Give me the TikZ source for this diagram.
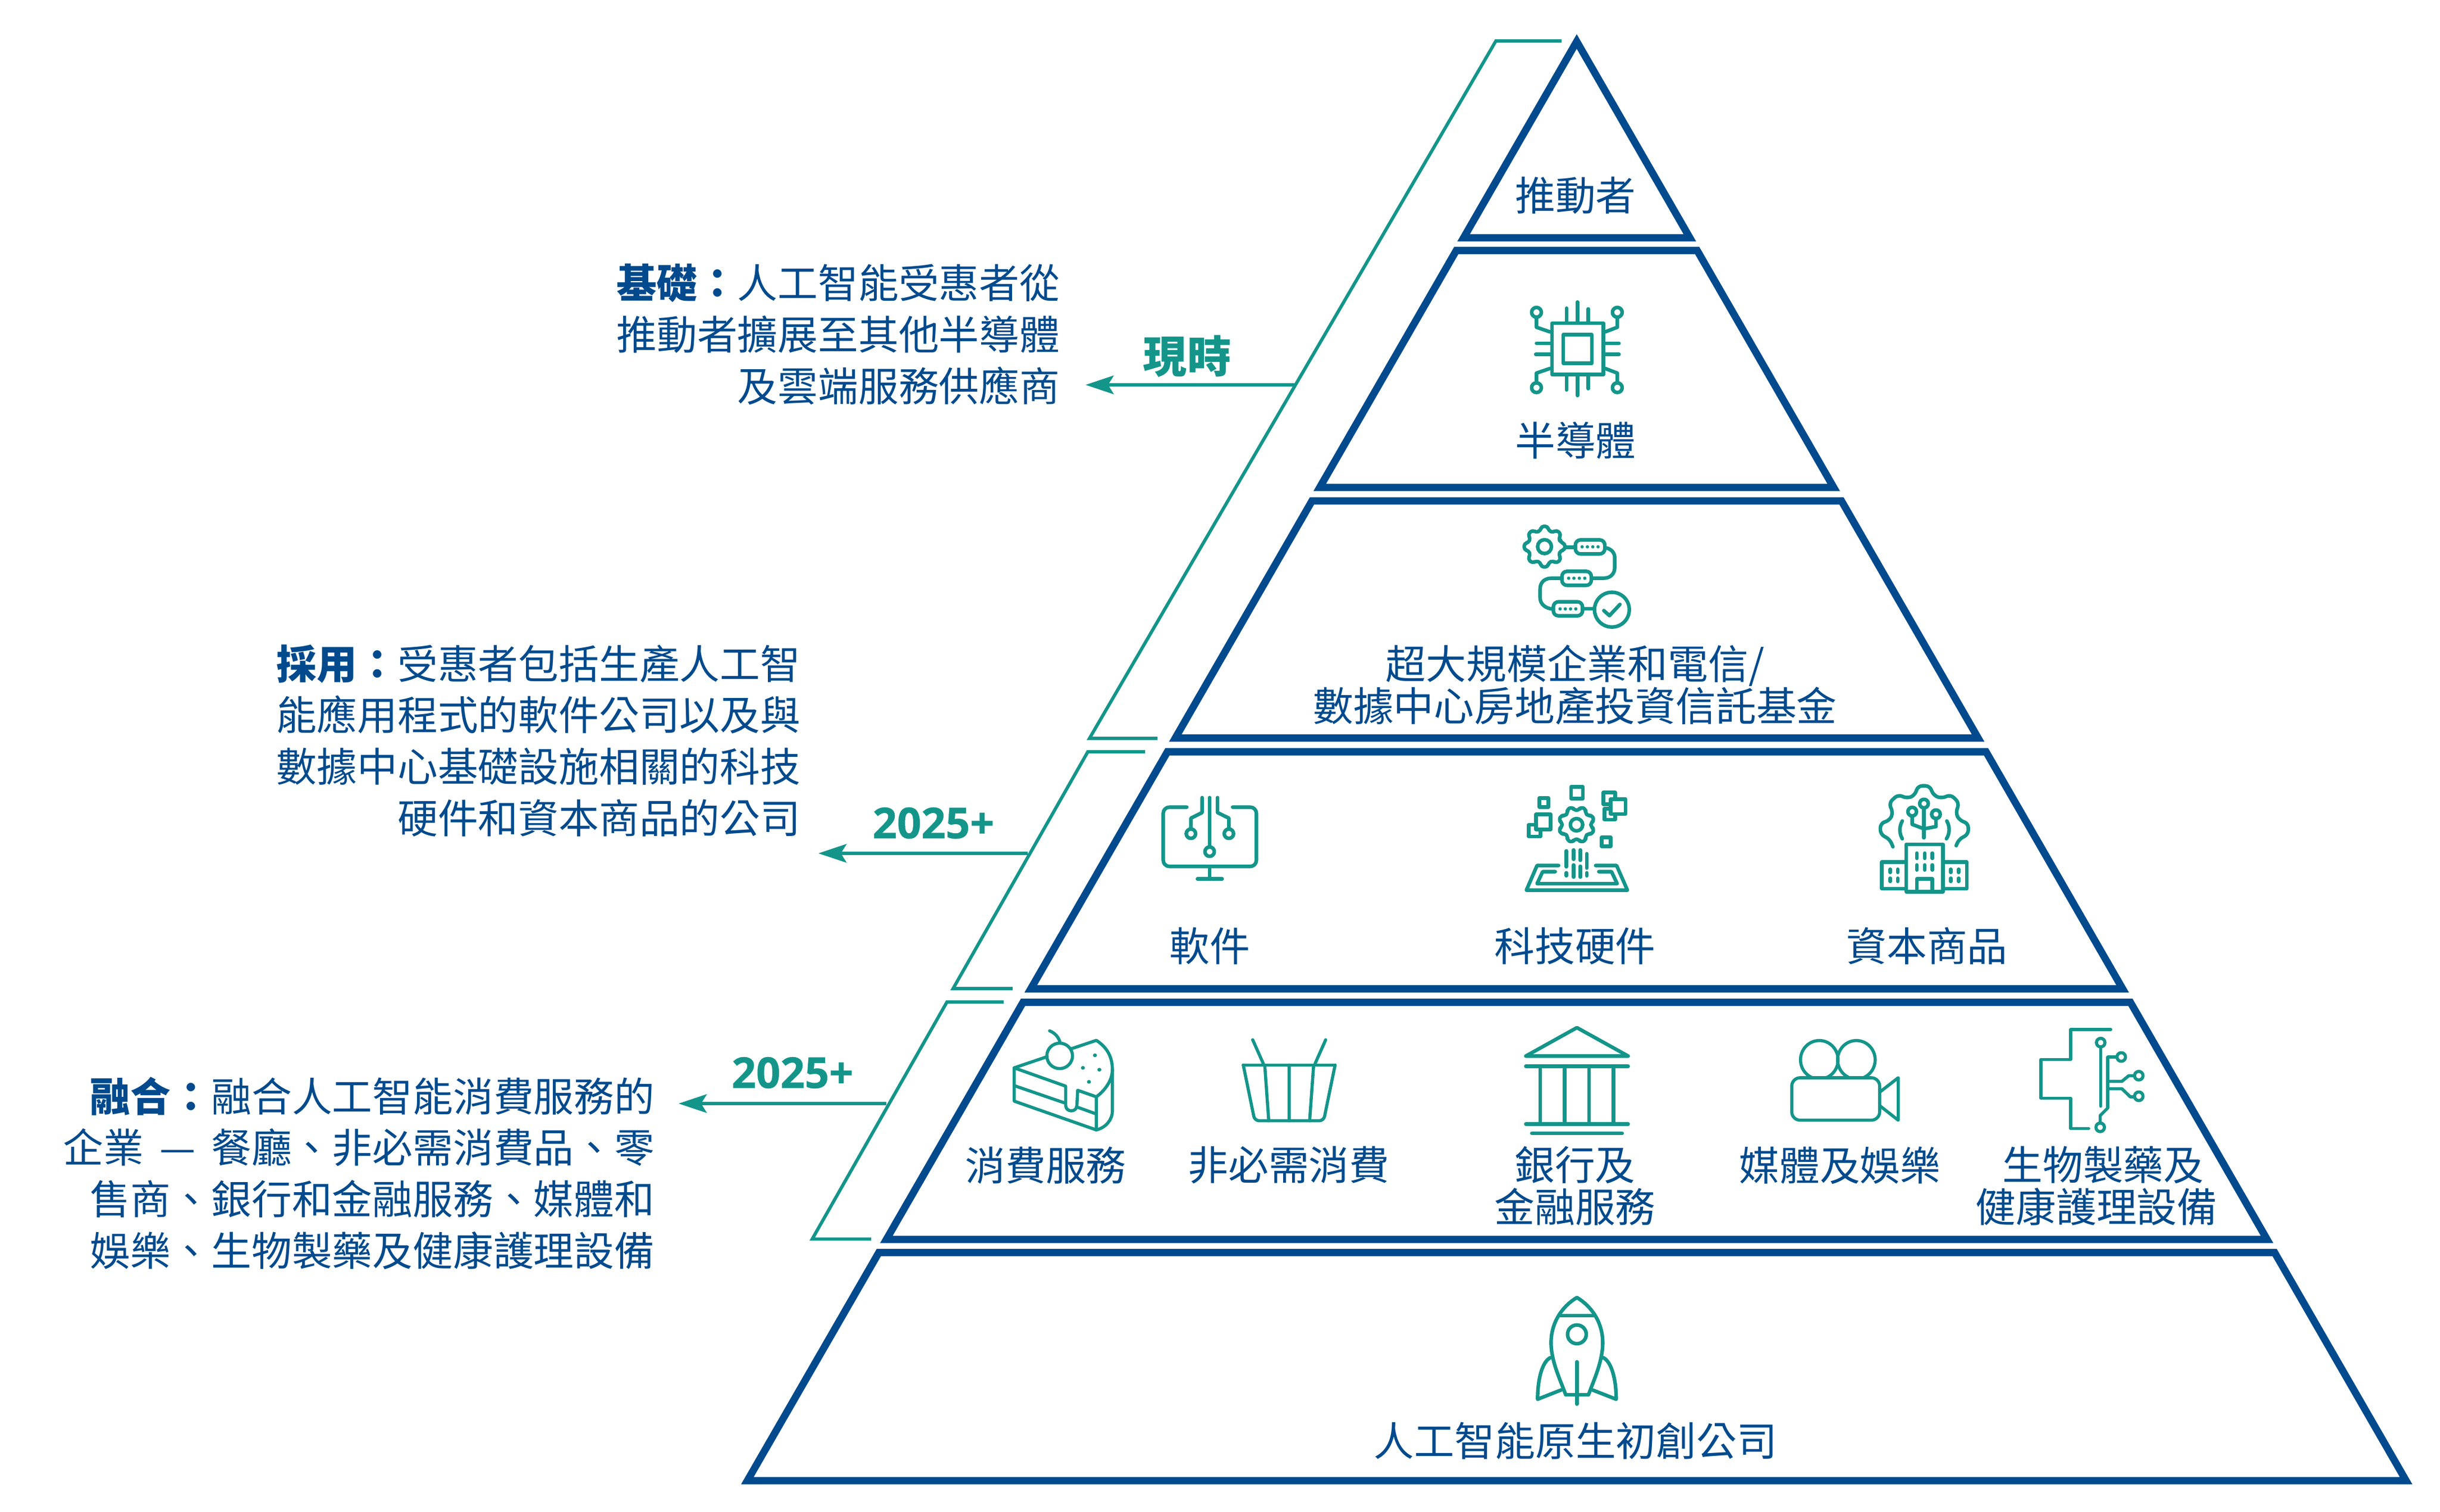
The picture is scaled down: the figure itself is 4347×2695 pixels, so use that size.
\documentclass[tikz,border=0pt]{standalone}
\usepackage{fontspec}
\usetikzlibrary{arrows.meta}
\newfontfamily\cjkf{Noto Sans CJK TC}
\newfontfamily\osans{Open Sans}
\definecolor{nblue}{HTML}{004A8D}
\definecolor{iconteal}{HTML}{14958A}
\newcommand\lblfont{\cjkf\fontsize{20.42pt}{21.3pt}\selectfont}
\newcommand\sidefont{\cjkf\fontsize{20.42pt}{26.04pt}\selectfont}
\newcommand\nowfont{\cjkf\bfseries\fontsize{22.2pt}{24pt}\selectfont}
\newcommand\yearfont{\osans\bfseries\addfontfeature{FakeBold=0.6}\fontsize{21.6pt}{24pt}\selectfont}
% top y and bottom y of one pyramid layer
\newcommand\layerpath[2]{%
  \draw[layerline] ({2809-0.576*(#1-74)},#1) -- ({2809+0.576*(#1-74)},#1)
    -- ({2809+0.576*(#2-74)},#2) -- ({2809-0.576*(#2-74)},#2) -- cycle;}
% cx cy router rinner rhole offset
\newcommand\geargear[6]{%
  \begin{scope}[shift={(#1,#2)}]
    \draw[iconline,rounded corners=0.45mm] (#6-14:#4)
      \foreach \i [evaluate=\i as \a using \i*45+#6] in {0,...,7} {
        -- (\a-14:#4) -- (\a-9:#3) -- (\a+9:#3) -- (\a+14:#4) } -- cycle;
    \draw[iconline] (0,0) circle (#5);
  \end{scope}}
\tikzset{
  x=0.01cm,y=-0.01cm,
  layerline/.style={draw=nblue,line width=1.3mm,line join=miter},
  bracketline/.style={draw=iconteal,line width=0.58mm,line join=miter},
  arrowline/.style={draw=iconteal,line width=0.58mm,-{Stealth[length=5mm,width=3.3mm,inset=1mm,fill=iconteal]}},
  iconline/.style={draw=iconteal,line width=0.64mm,line cap=round,line join=round},
  lbl/.style={font=\lblfont,text=nblue,inner sep=0pt,align=center},
  sidetext/.style={font=\sidefont,text=nblue,inner sep=0pt,align=right,anchor=east},
  nowlbl/.style={font=\nowfont,text=iconteal,inner sep=0pt},
  yearlbl/.style={font=\yearfont,text=iconteal,inner sep=0pt},
}
\begin{document}
\begin{tikzpicture}
\useasboundingbox (0,0) rectangle (4347,2695);
% pyramid
\draw[layerline] (2809,74) -- ({2809+0.576*350},424) -- ({2809-0.576*350},424) -- cycle;
\layerpath{446.5}{869}
\layerpath{893}{1315.5}
\layerpath{1340}{1762.5}
\layerpath{1786.5}{2209}
\layerpath{2232.5}{2639}
% brackets
\draw[bracketline] (2782,73) -- (2665,73) -- (1941,1316) -- (2062,1316);
\draw[bracketline] (2040,1340) -- (1938,1340) -- (1698,1762) -- (1804,1762);
\draw[bracketline] (1788,1786) -- (1687,1786) -- (1447,2208.5) -- (1552,2208.5);
% arrows
\coordinate (a1s) at (2309,686); \coordinate (a1t) at (1934,686);
\coordinate (a2s) at (1831,1521); \coordinate (a2t) at (1458,1521);
\coordinate (a3s) at (1579,1967); \coordinate (a3t) at (1209,1967);
\draw[arrowline] (a1s) -- (a1t);
\draw[arrowline] (a2s) -- (a2t);
\draw[arrowline] (a3s) -- (a3t);
% arrow labels
\node[nowlbl] (now) at (2115,635) {現時};
\node[yearlbl] (y1) at (1663,1467) {2025+};
\node[yearlbl] (y2) at (1412,1912) {2025+};
% side texts
\node[sidetext] (s1) at (1889,596) {{\bfseries 基礎^^^^ff1a}人工智能受惠者從\\推動者擴展至其他半導體\\及雲端服務供應商};
\node[sidetext] (s2) at (1427,1320) {{\bfseries 採用^^^^ff1a}受惠者包括生產人工智\\能應用程式的軟件公司以及與\\數據中心基礎設施相關的科技\\硬件和資本商品的公司};
\node[sidetext] (s3) at (1167,2091) {{\bfseries 融合^^^^ff1a}融合人工智能消費服務的\\企業\hspace{0.12cm} — \hspace{0.12cm}餐廳、非必需消費品、零\\售商、銀行和金融服務、媒體和\\娛樂、生物製藥及健康護理設備};
% layer labels
\node[lbl] (l1) at (2807,348) {推動者};
\node[lbl] (l2) at (2807,785) {半導體};
\node[lbl] (l3) at (2806,1221) {超大規模企業和電信/\\數據中心房地產投資信託基金};
\node[lbl] (l4a) at (2155,1686) {軟件};
\node[lbl] (l4b) at (2806,1686) {科技硬件};
\node[lbl] (l4c) at (3433,1686) {資本商品};
\node[lbl] (l5a) at (1863,2077) {消費服務};
\node[lbl] (l5b) at (2296,2077) {非必需消費};
\node[lbl] (l5c) at (2806,2114) {銀行及\\金融服務};
\node[lbl] (l5d) at (3278,2077) {媒體及娛樂};
\node[lbl] (l5e) at (3735,2114) {\hspace*{0.24cm}生物製藥及\\健康護理設備};
\node[lbl] (l6) at (2807,2568) {人工智能原生初創公司};
% chip
\begin{scope}[shift={(2650,500)},scale=1/3]
  \draw[iconline] (345,228) rectangle (620,503);
  \draw[iconline] (405,290) rectangle (558,442);
  \draw[iconline] (423,228)--(423,148) (481,228)--(481,115) (539,228)--(539,152);
  \draw[iconline] (423,503)--(423,585) (481,503)--(481,615) (539,503)--(539,578);
  \draw[iconline] (345,336)--(262,336) (345,395)--(258,395);
  \draw[iconline] (620,336)--(703,336) (620,395)--(703,395);
  \draw[iconline] (262,170) circle (26) (694,170) circle (26) (262,573) circle (26) (694,573) circle (26);
  \draw[iconline] (262,196)--(262,250)--(335,275) (694,196)--(694,250)--(628,275);
  \draw[iconline] (262,548)--(262,495)--(335,470) (694,548)--(694,495)--(628,470);
\end{scope}
% gear chain
\begin{scope}[shift={(2660,910)},scale=1/3]
  \geargear{275}{193}{110}{88}{37}{0}
  \draw[iconline,rounded corners=0.9mm] (440,157) rectangle (597,232);
  \draw[iconline,rounded corners=0.9mm] (368,325) rectangle (525,400);
  \draw[iconline,rounded corners=0.9mm] (322,488) rectangle (478,563);
  \draw[iconline] (385,196)--(440,196);
  \draw[iconline] (597,198) .. controls (630,203) and (650,225) .. (650,250) -- (650,305) .. controls (650,340) and (625,362) .. (590,362) -- (525,362);
  \draw[iconline] (368,362) -- (310,362) .. controls (275,362) and (251,385) .. (251,420) -- (251,465) .. controls (251,500) and (280,525) .. (322,527);
  \draw[iconline] (478,525)--(542,525);
  \draw[iconline] (635,530) circle (93);
  \draw[iconline] (592,535)--(622,562)--(678,502);
  \foreach \px in {476,504,533,561} \fill[iconteal] (\px,194) circle (9);
  \foreach \px in {404,432,461,490} \fill[iconteal] (\px,362) circle (9);
  \foreach \px in {358,386,414,442} \fill[iconteal] (\px,526) circle (9);
\end{scope}
% monitor
\begin{scope}[shift={(2030,1390)},scale=1/3]
  \draw[iconline,rounded corners=1.1mm] (253,146)--(127,146)--(127,463)--(625,463)--(625,146)--(498,146);
  \draw[iconline] (375,463)--(375,530) (310,530)--(442,530);
  \draw[iconline] (375,95)--(375,358) (335,95)--(335,175)--(275,205)--(275,264) (417,95)--(417,175)--(478,205)--(478,264);
  \draw[iconline] (375,384) circle (25) (275,288) circle (25) (478,288) circle (25);
\end{scope}
% tech hardware
\begin{scope}[shift={(2680,1390)},scale=1/3]
  \geargear{386}{240}{97}{78}{33}{22.5}
  \draw[iconline] (357,37) rectangle (420,100);
  \draw[iconline] (187,97) rectangle (235,145);
  \draw[iconline] (170,185) rectangle (248,265);
  \draw[iconline] (170,240)--(130,240)--(130,303)--(193,303)--(193,265);
  \draw[iconline] (520,308) rectangle (568,356);
  \draw[iconline] (568,103) rectangle (648,183);
  \draw[iconline] (568,130)--(530,130)--(530,68)--(592,68)--(592,103);
  \draw[iconline] (568,155)--(535,155)--(535,213)--(592,213)--(592,183);
  \draw[iconline] (332,380)--(332,465) (332,497)--(332,513) (370,375)--(370,425) (370,455)--(370,520);
  \draw[iconline] (406,375)--(406,430) (406,462)--(406,520) (441,395)--(441,472) (441,497)--(441,513);
  \draw[iconline] (290,458)--(175,458)--(118,590)--(658,590)--(600,458)--(488,458);
  \draw[iconline] (272,491)--(205,491)--(175,555)--(603,555)--(573,491)--(505,491);
\end{scope}
% capital goods
\begin{scope}[shift={(3320,1380)},scale=1/3]
  \draw[iconline,rounded corners=0.8mm] (157,388)--(140,347)--(90,322)--(90,262)--(140,247)--(158,205)--(135,155)--(185,108)--(232,130)--(275,112)--(290,62)--(355,62)--(372,112)--(418,130)--(465,108)--(512,155)--(492,205)--(512,247)--(560,262)--(560,322)--(510,347)--(495,382);
  \draw[iconline] (207,250) .. controls (190,280) and (190,315) .. (207,345);
  \draw[iconline] (445,250) .. controls (462,280) and (462,315) .. (443,345);
  \draw[iconline] (323,340)--(323,180);
  \draw[iconline] (260,222)--(260,268)--(323,292)--(387,280)--(387,236);
  \draw[iconline] (323,157) circle (23) (260,200) circle (23) (387,214) circle (23);
  \draw[iconline] (228,375) rectangle (424,628);
  \draw[iconline] (285,628)--(285,560)--(368,560)--(368,628);
  \draw[iconline] (228,470)--(98,470)--(98,612)--(228,612);
  \draw[iconline] (424,470)--(552,470)--(552,612)--(424,612);
  \foreach \px in {285,327,368} {\draw[iconline] (\px,422)--(\px,450) (\px,485)--(\px,512);}
  \foreach \px in {143,183,466,508} {\draw[iconline] (\px,508)--(\px,525) (\px,556)--(\px,573);}
\end{scope}
% cake and basket
\begin{scope}[shift={(1780,1820)},xscale=1/2.8,yscale=1/3]
  \draw[iconline,line width=0.56mm] (75,250)--(240,190);
  \draw[iconline,line width=0.56mm] (302,186) ellipse [x radius=64,y radius=68];
  \draw[iconline,line width=0.56mm] (360,148)--(485,103) .. controls (545,145) and (565,200) .. (565,260) -- (565,480) .. controls (565,530) and (530,570) .. (485,582);
  \draw[iconline,line width=0.56mm] (565,260) .. controls (565,310) and (535,365) .. (485,405);
  \draw[iconline,line width=0.56mm] (75,250)--(332,348)--(332,450) .. controls (332,490) and (388,490) .. (388,450) -- (392,370) -- (485,405) -- (485,582) -- (75,428) -- cycle;
  \draw[iconline,line width=0.56mm] (75,345)--(325,437) (395,462)--(480,495);
  \draw[iconline,line width=0.56mm] (252,52) .. controls (280,65) and (295,85) .. (303,110);
  \fill[iconteal] (478,183) ellipse [x radius=10,y radius=10] (418,250) ellipse [x radius=10,y radius=10] (500,260) ellipse [x radius=10,y radius=10] (448,325) ellipse [x radius=10,y radius=10];
  \draw[iconline,line width=0.56mm] (1218,235)--(1676,235);
  \draw[iconline,line width=0.56mm,rounded corners=0.8mm] (1218,235)--(1275,533)--(1619,533)--(1676,235);
  \draw[iconline,line width=0.56mm] (1325,235)--(1345,533) (1447,235)--(1447,533) (1569,235)--(1549,533);
  \draw[iconline,line width=0.56mm] (1265,100)--(1318,228) (1629,100)--(1576,228);
\end{scope}
% bank
\begin{scope}[shift={(2700,1820)},scale=1/3]
  \draw[iconline] (55,187)--(328,35)--(602,187)--cycle;
  \draw[iconline] (55,242)--(602,242) (55,551)--(602,551) (87,600)--(570,600);
  \foreach \px in {132,263,393,524} {\draw[iconline] (\px,255)--(\px,545);}
\end{scope}
% camera and health circuit
\begin{scope}[shift={(3180,1820)},xscale=1/2.24,yscale=1/3]
  \draw[iconline,line width=0.56mm,rounded corners=1.5mm] (27,303) rectangle (378,530);
  \begin{scope}
    \clip (0,0) rectangle (400,303);
    \draw[iconline,line width=0.56mm] (137,207) ellipse [x radius=75,y radius=103];
    \draw[iconline,line width=0.56mm] (285,207) ellipse [x radius=75,y radius=103];
  \end{scope}
  \draw[iconline,line width=0.56mm] (378,380)--(452,303)--(452,530)--(378,452);
  \draw[iconline,line width=0.56mm] (1300,45)--(1140,45)--(1140,205)--(1022,205)--(1022,412)--(1140,412)--(1140,575)--(1212,575);
  \draw[iconline,line width=0.56mm] (1260,140)--(1260,455);
  \draw[iconline,line width=0.56mm] (1322,192)--(1288,192)--(1288,465)--(1258,505)--(1258,545);
  \draw[iconline,line width=0.56mm] (1288,322)--(1345,322)--(1372,292)--(1393,292);
  \draw[iconline,line width=0.56mm] (1288,362)--(1345,362)--(1378,405)--(1393,405);
  \foreach \cx/\cy in {1260/115,1342/192,1412/292,1412/402,1258/568}
    {\draw[iconline,line width=0.56mm] (\cx,\cy) ellipse [x radius=17,y radius=23];}
\end{scope}
% rocket
\begin{scope}[shift={(2700,2300)},scale=1/3]
  \draw[iconline] (328,38) .. controls (250,85) and (190,170) .. (190,280) .. controls (190,380) and (240,480) .. (268,558) -- (390,558) .. controls (418,480) and (466,380) .. (466,280) .. controls (466,170) and (406,85) .. (328,38) -- cycle;
  \draw[iconline] (240,135)--(418,135);
  \draw[iconline] (328,235) circle (50);
  \draw[iconline] (328,382)--(328,608);
  \draw[iconline] (185,360) .. controls (140,385) and (118,480) .. (118,582) -- (245,532);
  \draw[iconline] (470,360) .. controls (515,385) and (538,480) .. (538,582) -- (410,532);
\end{scope}
\end{tikzpicture}
\end{document}
